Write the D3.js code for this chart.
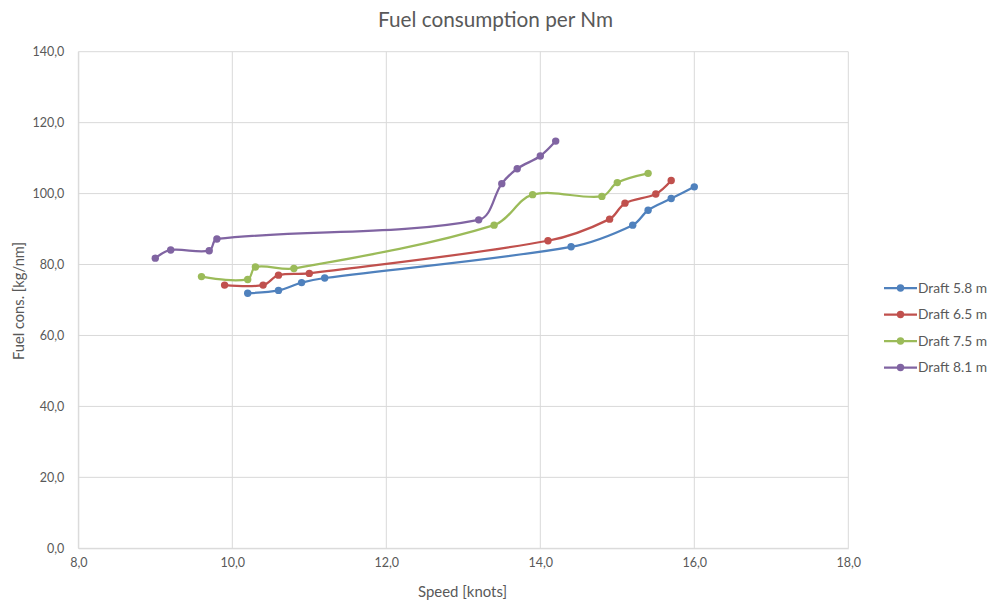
<!DOCTYPE html>
<html>
<head>
<meta charset="utf-8">
<script src="https://cdn.jsdelivr.net/npm/d3@7"></script>
<style>
  html, body { margin: 0; padding: 0; background: #fff; }
  svg { display: block; font-family: Lato, "Liberation Sans", sans-serif; }
</style>
</head>
<body>
<svg id="chart" width="989" height="601"></svg>
<script>
const seriesNames = ["Draft 5.8 m", "Draft 6.5 m", "Draft 7.5 m", "Draft 8.1 m"];
const seriesColors = ["#4F81BD", "#C0504D", "#9BBB59", "#8064A2"];

const speed58 = [10.2, 10.6, 10.9, 11.2, 14.4, 15.2, 15.4, 15.7, 16.0];
const fuel58  = [71.9, 72.7, 74.9, 76.2, 85.0, 91.1, 95.3, 98.6, 101.9];

const speed65 = [9.9, 10.4, 10.6, 11.0, 14.1, 14.9, 15.1, 15.5, 15.7];
const fuel65  = [74.2, 74.2, 77.0, 77.5, 86.7, 92.8, 97.3, 99.9, 103.7];

const speed75 = [9.6, 10.2, 10.3, 10.8, 13.4, 13.9, 14.8, 15.0, 15.4];
const fuel75  = [76.6, 75.8, 79.3, 78.9, 91.1, 99.7, 99.2, 103.1, 105.7];

const speed81 = [9.0, 9.2, 9.7, 9.8, 13.2, 13.5, 13.7, 14.0, 14.2];
const fuel81  = [81.8, 84.1, 83.9, 87.2, 92.6, 102.8, 107.0, 110.6, 114.8];

const xTicks = [8, 10, 12, 14, 16, 18];
const yTicks = [0, 20, 40, 60, 80, 100, 120, 140];

const titleText = "Fuel consumption per Nm";
const xTitle = "Speed [knots]";
const yTitle = "Fuel cons. [kg/nm]";

const speeds = [speed58, speed65, speed75, speed81];
const fuels = [fuel58, fuel65, fuel75, fuel81];
const series = seriesNames.map((name, i) => ({
  name, color: seriesColors[i],
  points: speeds[i].map((s, j) => ({ x: s, y: fuels[i][j] }))
}));

const svg = d3.select("#chart");
const pLeft = 78.3, pRight = 848.3, pTop = 51.7, pBottom = 548.3;

const x = d3.scaleLinear().domain([8, 18]).range([pLeft, pRight]);
const y = d3.scaleLinear().domain([0, 140]).range([pBottom, pTop]);

const fmt = d => d.toFixed(1).replace(".", ",");
const textColor = "#595959";
const gridColor = "#d9d9d9";

// fit a text element's font size so its rendered width matches a target
function fitWidth(sel, target) {
  sel.each(function () {
    const w = this.getComputedTextLength();
    const fs = parseFloat(getComputedStyle(this).fontSize);
    if (w > 0) d3.select(this).style("font-size", (fs * target / w).toFixed(2) + "px");
  });
}

// grid
svg.append("g").selectAll("line").data(yTicks).join("line")
  .attr("x1", pLeft).attr("x2", pRight)
  .attr("y1", d => y(d)).attr("y2", d => y(d))
  .attr("stroke", gridColor).attr("stroke-width", 1);
svg.append("g").selectAll("line").data(xTicks).join("line")
  .attr("x1", d => x(d)).attr("x2", d => x(d))
  .attr("y1", pTop).attr("y2", pBottom)
  .attr("stroke", gridColor).attr("stroke-width", 1);

// axes
const xAxis = d3.axisBottom(x).tickValues(xTicks).tickFormat(fmt).tickSize(0).tickPadding(10);
const gx = svg.append("g").attr("transform", `translate(0,${pBottom})`).call(xAxis);
gx.select(".domain").attr("stroke", gridColor);
gx.selectAll("text").attr("fill", textColor).style("font-size", "12.5px").style("font-family", "Lato, sans-serif");

const yAxis = d3.axisLeft(y).tickValues(yTicks).tickFormat(fmt).tickSize(0).tickPadding(14);
const gy = svg.append("g").attr("transform", `translate(${pLeft},0)`).call(yAxis);
gy.select(".domain").attr("stroke", gridColor);
gy.selectAll("text").attr("fill", textColor).style("font-size", "12.5px").style("font-family", "Lato, sans-serif");

// titles
const tt = svg.append("text").attr("x", 495.5).attr("y", 27).attr("text-anchor", "middle")
  .attr("fill", textColor).style("font-size", "20px").text(titleText);
fitWidth(tt, 235);
const xt = svg.append("text").attr("x", 462.5).attr("y", 597).attr("text-anchor", "middle")
  .attr("fill", textColor).style("font-size", "14px").text(xTitle);
fitWidth(xt, 89);
const yt = svg.append("text").attr("transform", "translate(23.5,301) rotate(-90)").attr("text-anchor", "middle")
  .attr("fill", textColor).style("font-size", "14px").text(yTitle);
fitWidth(yt, 118);

// smoothed line (Bezier, tangent arms weighted by neighbouring segment lengths)
function smoothPath(pts) {
  const p = d3.path();
  const n = pts.length;
  p.moveTo(pts[0][0], pts[0][1]);
  const dist = (a, b) => Math.hypot(b[0] - a[0], b[1] - a[1]);
  const arms = pts.map((pt, i) => {
    if (i === 0 || i === n - 1) return null;
    const a = pts[i - 1], b = pts[i + 1];
    const d1 = dist(a, pt), d2 = dist(pt, b);
    const tx = b[0] - a[0], ty = b[1] - a[1];
    const s = d1 + d2;
    return {
      inX: pt[0] - tx * d1 / s / 3, inY: pt[1] - ty * d1 / s / 3,
      outX: pt[0] + tx * d2 / s / 3, outY: pt[1] + ty * d2 / s / 3
    };
  });
  for (let i = 0; i < n - 1; i++) {
    const a = pts[i], b = pts[i + 1];
    const c1 = arms[i] ? [arms[i].outX, arms[i].outY] : [a[0] + (b[0] - a[0]) / 3, a[1] + (b[1] - a[1]) / 3];
    const c2 = arms[i + 1] ? [arms[i + 1].inX, arms[i + 1].inY] : [b[0] - (b[0] - a[0]) / 3, b[1] - (b[1] - a[1]) / 3];
    if (!arms[i] && arms[i + 1]) { c1[0] = a[0] + (c2[0] - a[0]) / 2; c1[1] = a[1] + (c2[1] - a[1]) / 2; }
    if (arms[i] && !arms[i + 1]) { c2[0] = b[0] + (c1[0] - b[0]) / 2; c2[1] = b[1] + (c1[1] - b[1]) / 2; }
    p.bezierCurveTo(c1[0], c1[1], c2[0], c2[1], b[0], b[1]);
  }
  return p.toString();
}

const sg = svg.append("g").selectAll("g").data(series).join("g");
sg.append("path").attr("d", d => smoothPath(d.points.map(q => [x(q.x), y(q.y)])))
  .attr("fill", "none")
  .attr("stroke", d => d.color).attr("stroke-width", 2.25).attr("stroke-linejoin", "round");
sg.selectAll("circle").data(d => d.points.map(p => ({ ...p, color: d.color }))).join("circle")
  .attr("cx", d => x(d.x)).attr("cy", d => y(d.y)).attr("r", 3.7).attr("fill", d => d.color);

// legend
const lg = svg.append("g").selectAll("g").data(series).join("g")
  .attr("transform", (d, i) => `translate(884,${288 + i * 26.5})`);
lg.append("line").attr("x1", 0).attr("x2", 33).attr("y1", 0).attr("y2", 0)
  .attr("stroke", d => d.color).attr("stroke-width", 2.25);
lg.append("circle").attr("cx", 16.5).attr("cy", 0).attr("r", 3.7).attr("fill", d => d.color);
const lt = lg.append("text").attr("x", 34).attr("y", 0).attr("dy", "0.35em")
  .attr("fill", textColor).style("font-size", "12.5px").text(d => d.name);
fitWidth(lt, 69);
</script>
</body>
</html>
